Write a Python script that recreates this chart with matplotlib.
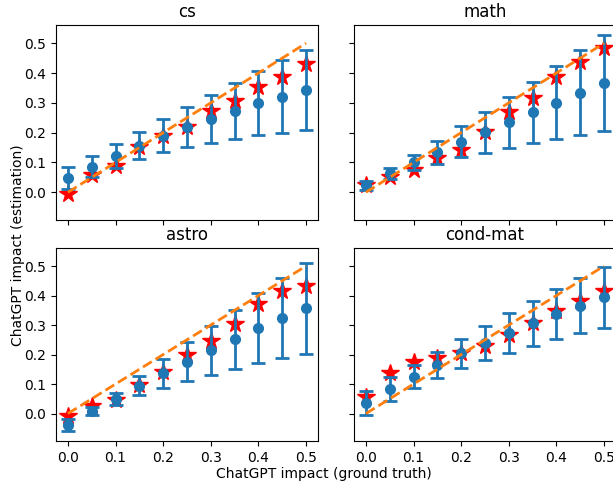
import matplotlib
matplotlib.use("Agg")
import matplotlib.pyplot as plt
import numpy as np

x_truth = [0.0, 0.05, 0.1, 0.15, 0.2, 0.25, 0.3, 0.35, 0.4, 0.45, 0.5]
titles = ["cs", "math", "astro", "cond-mat"]

cs_mean = [0.047, 0.086, 0.122, 0.156, 0.190, 0.218, 0.246, 0.274, 0.299, 0.321, 0.343]
cs_err = [0.037, 0.036, 0.040, 0.045, 0.056, 0.067, 0.080, 0.094, 0.107, 0.122, 0.135]
cs_star = [-0.006, 0.058, 0.089, 0.151, 0.190, 0.218, 0.274, 0.306, 0.354, 0.385, 0.430]

math_mean = [0.024, 0.064, 0.100, 0.134, 0.169, 0.201, 0.235, 0.268, 0.301, 0.334, 0.366]
math_err = [0.015, 0.019, 0.025, 0.038, 0.052, 0.068, 0.085, 0.103, 0.122, 0.142, 0.162]
math_star = [0.024, 0.052, 0.075, 0.114, 0.142, 0.203, 0.270, 0.315, 0.386, 0.438, 0.483]

astro_mean = [-0.040, 0.008, 0.049, 0.094, 0.136, 0.176, 0.215, 0.252, 0.289, 0.323, 0.356]
astro_err = [0.020, 0.014, 0.019, 0.032, 0.049, 0.066, 0.083, 0.100, 0.118, 0.136, 0.153]
astro_star = [-0.007, 0.025, 0.045, 0.097, 0.142, 0.198, 0.246, 0.304, 0.371, 0.416, 0.433]

condmat_mean = [0.036, 0.083, 0.125, 0.166, 0.204, 0.239, 0.273, 0.306, 0.338, 0.366, 0.394]
condmat_err = [0.041, 0.040, 0.040, 0.044, 0.050, 0.058, 0.068, 0.076, 0.085, 0.094, 0.104]
condmat_star = [0.055, 0.136, 0.176, 0.187, 0.204, 0.229, 0.267, 0.308, 0.347, 0.383, 0.416]

means = [cs_mean, math_mean, astro_mean, condmat_mean]
errs = [cs_err, math_err, astro_err, condmat_err]
stars = [cs_star, math_star, astro_star, condmat_star]

fig = plt.figure(figsize=(6.13, 4.84), dpi=100)
W, H = 613, 484
boxes = [
    (56, 25, 262, 195),
    (354, 25, 262, 195),
    (56, 248, 262, 193),
    (354, 248, 262, 193),
]
axes = []
for i, (l, t, w, h) in enumerate(boxes):
    ax = fig.add_axes([l / W, 1 - (t + h) / H, w / W, h / H])
    axes.append(ax)
    ax.plot(x_truth, stars[i], linestyle="none", marker="*", color="red",
            markersize=13, zorder=2)
    ax.errorbar(x_truth, means[i], yerr=errs[i], fmt="o", color="C0",
                markersize=7, elinewidth=2, capsize=5, capthick=2, zorder=3)
    ax.plot([x_truth[0], x_truth[-1]], [x_truth[0], x_truth[-1]], "--",
            color="C1", linewidth=2, zorder=4)
    ax.set_title(titles[i], fontsize=12)
    ax.set_xlim(-0.025, 0.525)
    ax.set_ylim(-0.093, 0.561)
    ax.set_xticks([0.0, 0.1, 0.2, 0.3, 0.4, 0.5])
    ax.set_yticks([0.0, 0.1, 0.2, 0.3, 0.4, 0.5])
    if i in (1, 3):
        ax.set_yticklabels([])
    if i in (0, 1):
        ax.set_xticklabels([])

fig.text(324 / W, 1 - 474 / H, "ChatGPT impact (ground truth)", ha="center",
         va="center", fontsize=10)
fig.text(18 / W, 1 - 245 / H, "ChatGPT impact (estimation)", ha="center",
         va="center", rotation=90, fontsize=10)

fig.savefig("out.png", dpi=100)
